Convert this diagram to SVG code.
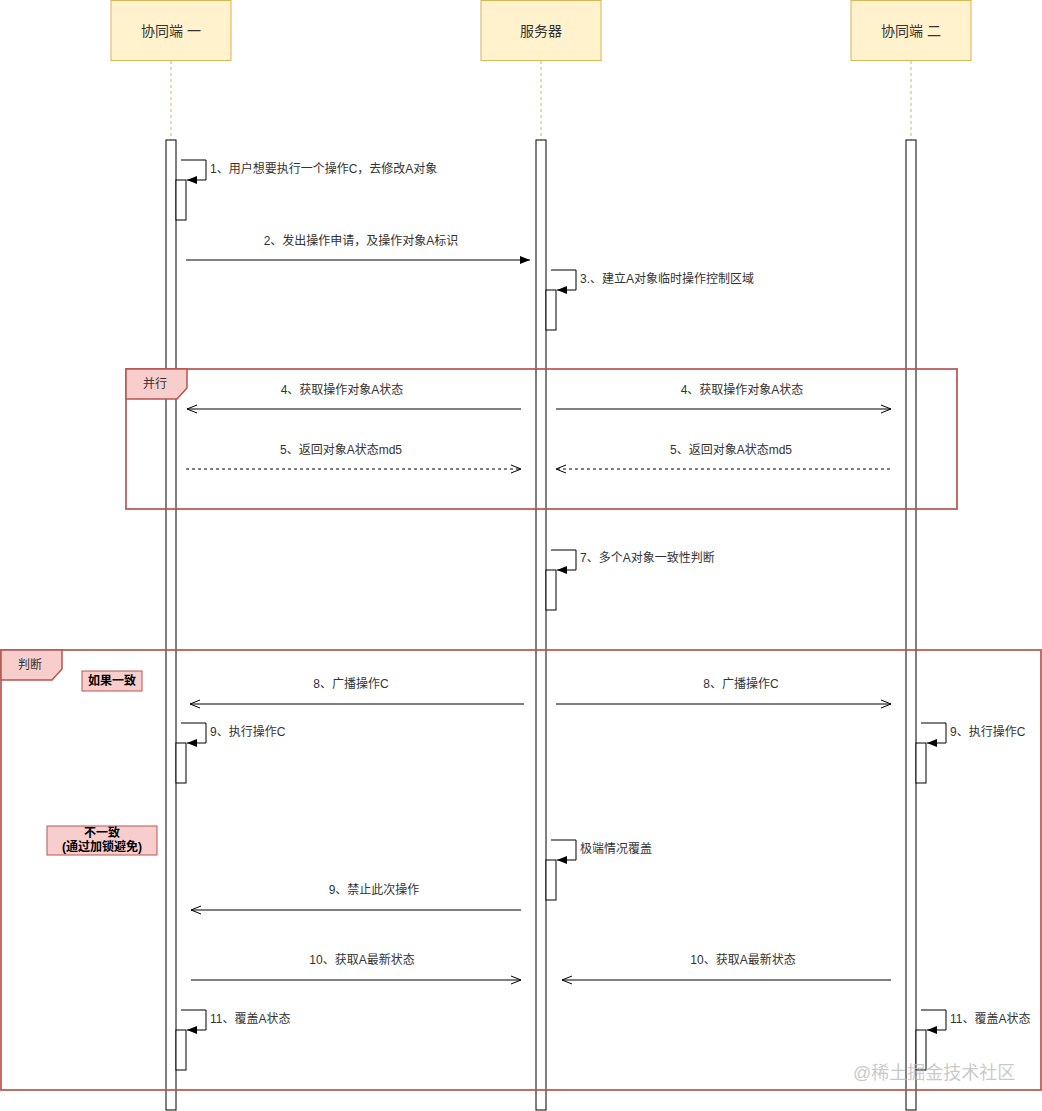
<svg xmlns="http://www.w3.org/2000/svg" width="1042" height="1111" viewBox="0 0 1042 1111">
<style>
text{font-family:"Liberation Sans","Noto Sans CJK SC",sans-serif;fill:#333}
.hdr{fill:#fff2cc;stroke:#d6b656;stroke-width:1}
.hdrt{font-size:14px;text-anchor:middle;dominant-baseline:central}
.life{stroke:#d6b656;stroke-width:1;stroke-dasharray:3 3;fill:none}
.act{fill:#fff;stroke:#000;stroke-width:1}
.msg{stroke:#000;stroke-width:1;fill:none}
.dash{stroke-dasharray:3 3}
.lbl{font-size:12px;text-anchor:middle}
.sl{font-size:12px}
.frame{fill:none;stroke:#b85450;stroke-width:2;stroke-opacity:0.85}
.tab{fill:#f8cecc;stroke:#b85450;stroke-width:1.5}
.note{fill:#f8cecc;stroke:#b85450;stroke-width:1}
.nt{font-size:12px;font-weight:bold;text-anchor:middle;fill:#000}
.wm{font-size:18px;fill:#bbb;fill-opacity:0.8}
</style>
<defs>
<marker id="block" viewBox="0 0 10 8" refX="10" refY="4" markerWidth="10" markerHeight="8" markerUnits="userSpaceOnUse" orient="auto">
<path d="M0,0 L10,4 L0,8 z" fill="#000"/>
</marker>
<marker id="open" viewBox="0 0 12 10" refX="11" refY="5" markerWidth="12" markerHeight="10" markerUnits="userSpaceOnUse" orient="auto">
<path d="M1,1 L11,5 L1,9" fill="none" stroke="#000" stroke-width="1"/>
</marker>
</defs>

<g id="node-client1">
<rect class="hdr" x="111" y="0.5" width="120" height="60"/>
<text class="hdrt" x="171" y="31">协同端 一</text>
<line class="life" x1="171" y1="61" x2="171" y2="140"/>
<rect class="act" x="166" y="140" width="10" height="970"/>
</g>
<g id="node-server">
<rect class="hdr" x="481" y="0.5" width="120" height="60"/>
<text class="hdrt" x="541" y="31">服务器</text>
<line class="life" x1="541" y1="61" x2="541" y2="140"/>
<rect class="act" x="536" y="140" width="10" height="970"/>
</g>
<g id="node-client2">
<rect class="hdr" x="851" y="0.5" width="120" height="60"/>
<text class="hdrt" x="911" y="31">协同端 二</text>
<line class="life" x1="911" y1="61" x2="911" y2="140"/>
<rect class="act" x="906" y="140" width="10" height="970"/>
</g>

<g id="activations">
<rect class="act" x="176" y="180" width="10" height="40"/>
<rect class="act" x="546" y="290" width="10" height="40"/>
<rect class="act" x="546" y="570" width="10" height="40"/>
<rect class="act" x="176" y="743" width="10" height="40"/>
<rect class="act" x="916" y="743" width="10" height="40"/>
<rect class="act" x="546" y="860" width="10" height="40"/>
<rect class="act" x="176" y="1030" width="10" height="40"/>
<rect class="act" x="916" y="1030" width="10" height="40"/>
</g>

<g id="frames">
<g id="frame-parallel">
<rect class="frame" x="126" y="369" width="831" height="140"/>
<path class="tab" d="M126,369 H187 V388 L177,399 H126 Z"/>
<text class="sl" x="155" y="388" text-anchor="middle">并行</text>
</g>
<g id="frame-judge">
<rect class="frame" x="1" y="650" width="1040" height="440"/>
<path class="tab" d="M1,650 H62 V669 L52,680 H1 Z"/>
<text class="sl" x="30" y="669" text-anchor="middle">判断</text>
</g>
</g>

<g id="notes">
<rect class="note" x="82" y="671" width="60" height="20"/>
<text class="nt" x="112" y="685">如果一致</text>
<rect class="note" x="47" y="826" width="110" height="29"/>
<text class="nt" x="102" y="837">不一致</text>
<text class="nt" x="102" y="851">(通过加锁避免)</text>
</g>

<g id="connectors">
<path class="msg" d="M181,160 H206 V180 H187" marker-end="url(#block)"/>
<line class="msg" x1="186" y1="260" x2="530" y2="260" marker-end="url(#block)"/>
<path class="msg" d="M551,270 H576 V290 H557" marker-end="url(#block)"/>
<line class="msg" x1="521" y1="409" x2="187" y2="409" marker-end="url(#open)"/>
<line class="msg" x1="556" y1="409" x2="891" y2="409" marker-end="url(#open)"/>
<line class="msg dash" x1="186" y1="469" x2="521" y2="469" marker-end="url(#open)"/>
<line class="msg dash" x1="890" y1="469" x2="556" y2="469" marker-end="url(#open)"/>
<path class="msg" d="M551,550 H576 V570 H557" marker-end="url(#block)"/>
<line class="msg" x1="524" y1="704" x2="190" y2="704" marker-end="url(#open)"/>
<line class="msg" x1="556" y1="704" x2="891" y2="704" marker-end="url(#open)"/>
<path class="msg" d="M181,723 H206 V743 H187" marker-end="url(#block)"/>
<path class="msg" d="M921,723 H946 V743 H927" marker-end="url(#block)"/>
<path class="msg" d="M551,840 H576 V860 H557" marker-end="url(#block)"/>
<line class="msg" x1="521" y1="910" x2="191" y2="910" marker-end="url(#open)"/>
<line class="msg" x1="191" y1="980" x2="521" y2="980" marker-end="url(#open)"/>
<line class="msg" x1="891" y1="980" x2="562" y2="980" marker-end="url(#open)"/>
<path class="msg" d="M181,1010 H206 V1030 H187" marker-end="url(#block)"/>
<path class="msg" d="M921,1010 H946 V1030 H927" marker-end="url(#block)"/>
</g>

<g id="labels">
<text class="sl" x="210" y="173">1、用户想要执行一个操作C，去修改A对象</text>
<text class="lbl" x="361" y="245">2、发出操作申请，及操作对象A标识</text>
<text class="sl" x="580" y="283">3.、建立A对象临时操作控制区域</text>
<text class="lbl" x="342" y="394">4、获取操作对象A状态</text>
<text class="lbl" x="742" y="394">4、获取操作对象A状态</text>
<text class="lbl" x="341" y="454">5、返回对象A状态md5</text>
<text class="lbl" x="731" y="454">5、返回对象A状态md5</text>
<text class="sl" x="580" y="562">7、多个A对象一致性判断</text>
<text class="lbl" x="351" y="688">8、广播操作C</text>
<text class="lbl" x="741" y="688">8、广播操作C</text>
<text class="sl" x="210" y="736">9、执行操作C</text>
<text class="sl" x="950" y="736">9、执行操作C</text>
<text class="sl" x="580" y="853">极端情况覆盖</text>
<text class="lbl" x="374" y="894">9、禁止此次操作</text>
<text class="lbl" x="362" y="964">10、获取A最新状态</text>
<text class="lbl" x="743" y="964">10、获取A最新状态</text>
<text class="sl" x="210" y="1023">11、覆盖A状态</text>
<text class="sl" x="950" y="1023">11、覆盖A状态</text>
</g>

<text class="wm" x="853" y="1079">@稀土掘金技术社区</text>
</svg>
